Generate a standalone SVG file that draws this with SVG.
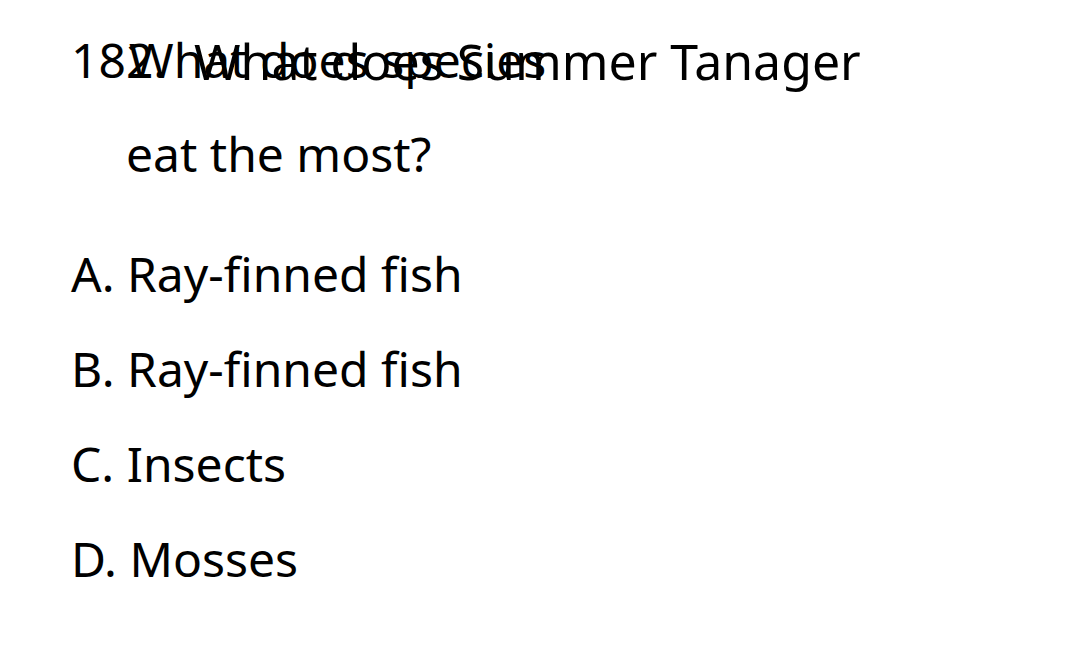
<svg xmlns="http://www.w3.org/2000/svg" width="1080" height="663" viewBox="0 0 1080 663">
<style>
text{font-family:"Noto Sans","Open Sans","DejaVu Sans",sans-serif;font-size:48px;fill:#000}
.big{font-size:50px}
</style>
<rect width="1080" height="663" fill="#fff"/>
<g id="question">
<text id="qnum" x="71" y="78">182.</text>
<text id="qline1a" x="129" y="78">What does species</text>
<text id="qline1b" class="big" x="194" y="80">What does Summer Tanager</text>
<text id="qline2" x="126" y="172">eat the most?</text>
</g>
<g id="options">
<text id="optA" x="71" y="292">A. Ray-finned fish</text>
<text id="optB" x="71" y="387">B. Ray-finned fish</text>
<text id="optC" x="71" y="482">C. Insects</text>
<text id="optD" x="71" y="577">D. Mosses</text>
</g>
</svg>
